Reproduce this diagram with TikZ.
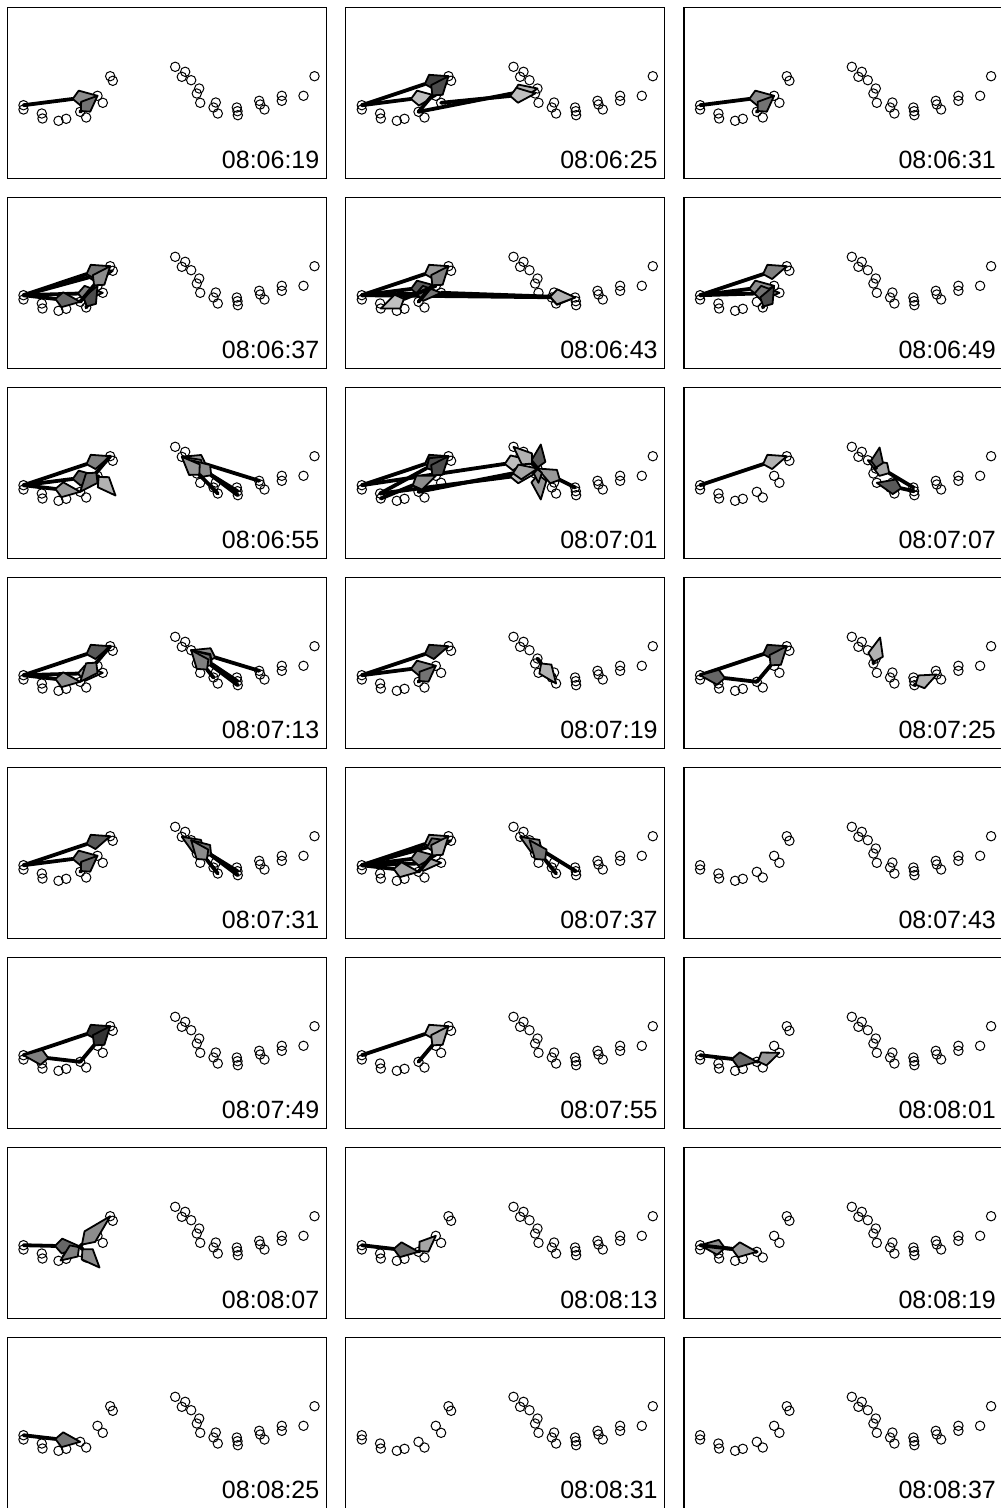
\documentclass[tikz,border=0pt]{standalone}
\usepackage{fontspec}
\setmainfont{Liberation Sans}
\usetikzlibrary{calc}
\tikzset{
 frame/.style={draw=black, line width=1.3pt},
 dot/.style={circle, draw=black, line width=1pt, minimum size=9.4pt, inner sep=0pt},
 stamp/.style={anchor=base east, inner sep=0pt, font=\fontsize{25pt}{28pt}\selectfont},
 shaft/.style={line width=3.8pt, line cap=round, draw=black},
 kite/.style={draw=black, line width=1.8pt, line join=round},
}
\def\circlist{1/16/97.7, 2/16/102, 3/34.3/106, 4/35/111, 5/51/113.3, 6/58.7/111.3, 7/72.7/104.3, 8/78.7/110, 9/90/88.3, 10/95.3/95.3, 11/102.7/68.7, 12/105.3/73.3, 13/167.7/59.3, 14/177.7/64.3, 15/174.3/69.3, 16/183.7/72.7, 17/191.7/81, 18/189.3/86, 19/192.7/95.3, 20/208.3/95, 21/206/100, 22/210.3/106, 23/229.3/100, 24/230/103.7, 25/230.3/107.7, 26/251.7/93.3, 27/252.7/97, 28/257/102, 29/274.3/88.3, 30/274.3/93.3, 31/296/88.3, 32/307/68.7}
\newcommand\mypanel[5]{%
 \def\pp{#1}%
 \begin{scope}[shift={({7.5+338.3*#2},{7.5+190*#3})}]
  \draw[frame] (0,0) rectangle (319,171);
  \foreach \i/\cx/\cy in \circlist {\node[dot] (#1-\i) at (\cx,\cy) {};}
  \node[stamp] (#1-t) at (312,161) {#4};
  #5
 \end{scope}}
\newcommand\arw[4][25]{%
 \path let \p1=(\pp-#2.center), \p2=(\pp-#3.center),
  \n1={veclen(\x2-\x1,\y2-\y1)}, \n2={min(#1,0.95*\n1)},
  \n3={0.72*\n2}, \n4={min(7.5,0.3*\n2)},
  \p3=($(\p2)!\n3!(\p1)$), \p4=($(\p3)!\n4!90:(\p2)$),
  \p5=($(\p3)!\n4!-90:(\p2)$), \p6=($(\p2)!\n2!(\p1)$)
 in coordinate (kb) at (\p6) coordinate (kw1) at (\p4) coordinate (kw2) at (\p5);
 \draw[shaft] (\pp-#2.center) -- (kb);
 \filldraw[kite, fill=#4] (\pp-#3.center) -- (kw1) -- (kb) -- (kw2) -- cycle;}
\begin{document}
\begin{tikzpicture}[x=1pt, y=-1pt]
\useasboundingbox (0,0) rectangle (1001,1508);
\fill[white] (0,0) rectangle (1001,1508);
% row 1
\mypanel{P1}{0}{0}{08:06:19}{}
\arw{1}{9}{black!45} \arw{7}{9}{black!55}
\mypanel{P2}{1}{0}{08:06:25}{}
\arw{7}{17}{black!30} \arw{10}{18}{black!25}
\arw{1}{9}{black!25} \arw{1}{11}{black!75} \arw{7}{11}{black!70}
\mypanel{P3}{2}{0}{08:06:31}{}
\arw{1}{9}{black!45} \arw{7}{9}{black!55}
% row 2
\mypanel{P4}{0}{1}{08:06:37}{}
\arw{1}{12}{black!70} \arw{1}{11}{black!55} \arw{1}{10}{black!50} \arw{1}{7}{black!60} \arw{8}{9}{black!70} \arw{7}{11}{black!45}
\mypanel{P5}{1}{1}{08:06:43}{}
\arw{1}{23}{black!30} \arw{10}{23}{black!30}
\arw{1}{11}{black!40} \arw{1}{9}{black!65} \arw{1}{10}{black!55} \arw{7}{11}{black!50} \arw{9}{4}{black!25}
\mypanel{P6}{2}{1}{08:06:49}{}
\arw{1}{11}{black!50} \arw{1}{9}{black!45} \arw{1}{10}{black!55} \arw{8}{9}{black!70}
% row 3
\mypanel{P7}{0}{2}{08:06:55}{\coordinate (P7-X) at (108,108);}
\arw{1}{11}{black!50} \arw{1}{9}{black!60} \arw{1}{7}{black!40} \arw{11}{7}{black!55} \arw{9}{X}{black!30}
\arw{26}{15}{black!40} \arw{24}{15}{black!40} \arw{25}{16}{black!45} \arw{22}{15}{black!40}
\mypanel{P8}{1}{2}{08:07:01}{\coordinate (P8-F1) at (195,57); \coordinate (P8-F2) at (195,112);}
\arw{1}{16}{black!25} \arw{3}{18}{black!25} \arw{7}{17}{black!35} \arw{23}{17}{black!40}
\arw{1}{11}{black!75} \arw{3}{11}{black!70} \arw{7}{11}{black!70} \arw{4}{9}{black!45}
\arw{17}{F1}{black!65} \arw{17}{13}{black!30} \arw{17}{F2}{black!40} \arw{17}{19}{black!45}
\mypanel{P9}{2}{2}{08:07:07}{\coordinate (P9-F1) at (195.5,60);}
\arw{1}{11}{black!30} \arw{23}{16}{black!35} \arw{17}{F1}{black!60} \arw{24}{19}{black!65}
% row 4
\mypanel{P10}{0}{3}{08:07:13}{}
\arw{1}{11}{black!65} \arw{1}{10}{black!35} \arw{1}{7}{black!45} \arw{11}{7}{black!50}
\arw{26}{16}{black!45} \arw{24}{16}{black!45} \arw{25}{16}{black!55} \arw{21}{16}{black!50}
\mypanel{P11}{1}{3}{08:07:19}{}
\arw{1}{11}{black!70} \arw{1}{9}{black!50} \arw{7}{9}{black!55} \arw{17}{22}{black!30}
\mypanel{P12}{2}{3}{08:07:25}{\coordinate (P12-F1) at (196,60);}
\arw{1}{11}{black!70} \arw{7}{11}{black!55} \arw{7}{1}{black!60} \arw{18}{F1}{black!30} \arw{25}{27}{black!30}
% row 5
\mypanel{P13}{0}{4}{08:07:31}{}
\arw{1}{11}{black!65} \arw{1}{9}{black!55} \arw{7}{9}{black!60}
\arw{24}{15}{black!50} \arw{25}{16}{black!55} \arw{22}{16}{black!45}
\mypanel{P14}{1}{4}{08:07:37}{}
\arw{1}{11}{black!40} \arw{1}{12}{black!55} \arw{1}{10}{black!35} \arw{1}{9}{black!45} \arw{7}{11}{black!35} \arw{1}{7}{black!35}
\arw{24}{15}{black!45} \arw{22}{16}{black!55}
\mypanel{P15}{2}{4}{08:07:43}{}
% row 6
\mypanel{P16}{0}{5}{08:07:49}{}
\arw{1}{11}{black!80} \arw{7}{11}{black!80} \arw{7}{1}{black!50}
\mypanel{P17}{1}{5}{08:07:55}{}
\arw{1}{11}{black!30} \arw{7}{11}{black!35}
\mypanel{P18}{2}{5}{08:08:01}{}
\arw{1}{7}{black!60} \arw{7}{10}{black!40}
% row 7
\mypanel{P19}{0}{6}{08:08:07}{\coordinate (P19-C) at (72.5,99); \coordinate (P19-F1) at (92,120); \coordinate (P19-F2) at (53,113);}
\arw{1}{C}{black!60} \arw[40]{C}{11}{black!45} \arw{C}{F1}{black!45} \arw{C}{F2}{black!50}
\mypanel{P20}{1}{6}{08:08:13}{}
\arw{1}{7}{black!60} \arw{7}{9}{black!35}
\mypanel{P21}{2}{6}{08:08:19}{}
\arw{7}{1}{black!45} \arw{1}{7}{black!40}
% row 8
\mypanel{P22}{0}{7}{08:08:25}{}
\arw{1}{7}{black!55}
\mypanel{P23}{1}{7}{08:08:31}{}
\mypanel{P24}{2}{7}{08:08:37}{}
\end{tikzpicture}
\end{document}
